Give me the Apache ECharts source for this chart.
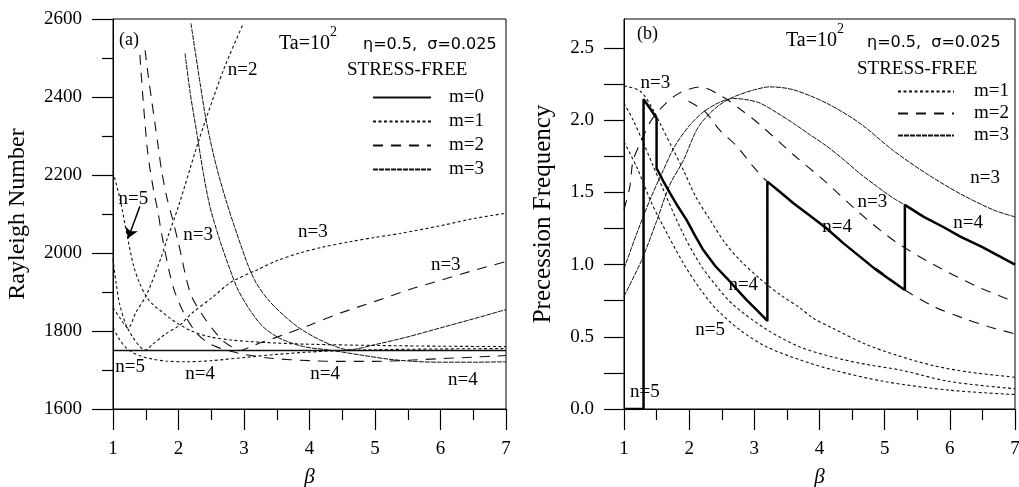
<!DOCTYPE html>
<html lang="en">
<head>
<meta charset="utf-8">
<title>Rayleigh number and precession frequency vs beta</title>
<script src="https://cdn.jsdelivr.net/npm/echarts@6/dist/echarts.min.js"></script>
<style>html,body{margin:0;padding:0;background:#fff;}</style>
</head>
<body>
<div id="chart" style="width:1019px;height:487px;"></div>
<script>
// ---- panel (a): Rayleigh number, [beta, Ra] ----
const a_m0_flat = [[1, 1750], [7, 1750]];
const a_m1_n5 = [[1, 2208], [1.11, 2136], [1.21, 2050], [1.31, 1970], [1.4, 1925], [1.51, 1888], [1.62, 1866], [1.74, 1850], [1.87, 1833], [2.0, 1818], [2.2, 1800], [2.48, 1785], [2.8, 1777], [3.09, 1773], [3.5, 1769], [4, 1766], [5, 1763], [6, 1761], [7, 1760]];
const a_m1_n2 = [[1, 1860], [1.1, 1835], [1.23, 1808], [1.35, 1848], [1.51, 1892], [1.74, 1991], [1.82, 2033], [2.0, 2120], [2.28, 2273], [2.43, 2349], [2.7, 2475], [2.98, 2585]];
const a_m1_n3 = [[1, 1985], [1.05, 1920], [1.1, 1870], [1.2, 1815], [1.3, 1785], [1.4, 1762], [1.49, 1751], [1.6, 1765], [1.8, 1792], [2.02, 1815], [2.2, 1845], [2.53, 1888], [2.8, 1925], [3.19, 1956], [3.5, 1980], [3.85, 2000], [4.2, 2015], [4.62, 2029], [5.0, 2040], [5.38, 2050], [6.0, 2070], [6.5, 2088], [7, 2102]];
const a_m1_n4 = [[1, 1808], [1.1, 1778], [1.2, 1757], [1.3, 1745], [1.4, 1737], [1.6, 1728], [1.8, 1723], [2.1, 1721], [2.5, 1724], [3.0, 1732], [3.5, 1740], [4, 1746], [4.5, 1750], [5, 1752], [6, 1754], [7, 1755]];
const a_m2_n4 = [[1.41, 2508], [1.46, 2392], [1.52, 2273], [1.56, 2221], [1.62, 2161], [1.69, 2102], [1.74, 2051], [1.87, 1944], [1.95, 1897], [2.1, 1840], [2.28, 1794], [2.45, 1770], [2.6, 1758], [2.8, 1748], [3.0, 1740], [3.42, 1730], [4, 1724], [4.5, 1722], [5, 1722], [5.5, 1725], [6, 1729], [6.5, 1733], [7, 1737]];
const a_m2_n3 = [[1.49, 2520], [1.54, 2452], [1.59, 2392], [1.64, 2333], [1.69, 2273], [1.74, 2213], [1.82, 2144], [1.9, 2093], [2.0, 2025], [2.18, 1897], [2.35, 1845], [2.53, 1803], [2.7, 1772], [2.85, 1756], [2.95, 1750], [3.1, 1760], [3.24, 1769], [3.6, 1790], [4, 1815], [4.47, 1846], [5, 1876], [5.5, 1905], [6, 1930], [6.5, 1955], [7, 1978]];
const a_m3_n3 = [[2.19, 2589], [2.33, 2435], [2.43, 2333], [2.58, 2221], [2.74, 2127], [2.89, 2050], [3.07, 1965], [3.19, 1922], [3.37, 1880], [3.6, 1841], [3.85, 1807], [4.16, 1777], [4.47, 1756], [4.6, 1752], [5.0, 1765], [5.5, 1785], [6.0, 1808], [6.5, 1831], [7, 1855]];
const a_m3_n4 = [[2.1, 2512], [2.18, 2409], [2.28, 2307], [2.38, 2204], [2.48, 2119], [2.63, 2033], [2.79, 1956], [2.91, 1905], [3.09, 1854], [3.29, 1811], [3.55, 1781], [3.91, 1760], [4.31, 1751], [4.8, 1738], [5.2, 1728], [5.6, 1722], [6.0, 1720], [6.5, 1720], [7, 1721]];
const a_labels = [[2.98, 2469, 'n=2'], [1.31, 2138, 'n=5'], [2.3, 2046, 'n=3'], [4.05, 2054, 'n=3'], [6.08, 1969, 'n=3'], [1.26, 1708, 'n=5'], [2.33, 1690, 'n=4'], [4.24, 1690, 'n=4'], [6.34, 1674, 'n=4']];
const a_arrow = [[1.41, 2119], [1.23, 2038]];

// ---- panel (b): precession frequency, [beta, omega] ----
const b_m1_n3 = [[1, 2.237], [1.25, 2.2], [1.45, 2.07], [1.55, 1.98], [1.75, 1.8], [1.91, 1.655], [2.1, 1.47], [2.32, 1.31], [2.55, 1.15], [2.78, 1.03], [3.09, 0.9], [3.4, 0.79], [3.7, 0.7], [3.9, 0.63], [4.2, 0.56], [4.7, 0.45], [5.2, 0.37], [5.75, 0.3], [6.3, 0.255], [7, 0.22]];
const b_m1_n4 = [[1, 2.117], [1.14, 2.0], [1.3, 1.84], [1.45, 1.68], [1.65, 1.47], [1.9, 1.22], [2.17, 1.0], [2.42, 0.85], [2.68, 0.72], [3.19, 0.55], [3.7, 0.43], [4.2, 0.36], [4.7, 0.31], [5.24, 0.27], [6, 0.19], [7, 0.14]];
const b_m1_n5 = [[1, 1.85], [1.2, 1.67], [1.4, 1.45], [1.55, 1.31], [1.91, 1.01], [2.17, 0.83], [2.42, 0.69], [2.8, 0.54], [3.19, 0.43], [3.7, 0.34], [4.21, 0.27], [5, 0.19], [6, 0.13], [7, 0.1]];
const b_m2_n3 = [[1, 1.38], [1.09, 1.54], [1.14, 1.72], [1.27, 1.86], [1.42, 2.0], [1.65, 2.12], [1.86, 2.19], [2.17, 2.23], [2.52, 2.16], [2.8, 2.07], [3.09, 1.967], [3.6, 1.76], [4.06, 1.586], [4.62, 1.355], [5.16, 1.16], [5.75, 1.0], [6.41, 0.85], [7, 0.74]];
const b_m2_n4 = [[1.99, 2.13], [2.24, 2.06], [2.47, 1.93], [2.73, 1.82], [2.98, 1.68], [3.2, 1.574], [3.6, 1.425], [4.11, 1.25], [4.62, 1.055], [5.0, 0.93], [5.31, 0.824], [5.75, 0.71], [6.2, 0.63], [6.6, 0.57], [7, 0.52]];
const b_m3_n4 = [[1, 0.97], [1.2, 1.22], [1.4, 1.45], [1.6, 1.65], [1.78, 1.82], [2.0, 1.96], [2.2, 2.05], [2.45, 2.12], [2.68, 2.15], [2.9, 2.14], [3.09, 2.117], [3.35, 2.05], [3.6, 1.978], [3.85, 1.9], [4.11, 1.82], [4.36, 1.73], [4.62, 1.63], [4.87, 1.545], [5.13, 1.46], [5.31, 1.413], [5.6, 1.33], [5.9, 1.26], [6.2, 1.19], [6.5, 1.12], [6.75, 1.06], [7, 1.0]];
const b_m3_n3 = [[1, 0.78], [1.27, 1.03], [1.5, 1.3], [1.7, 1.55], [1.91, 1.72], [2.1, 1.92], [2.22, 2.0], [2.45, 2.1], [2.68, 2.16], [3.0, 2.21], [3.24, 2.23], [3.6, 2.21], [4.11, 2.117], [4.62, 1.978], [5.13, 1.79], [5.64, 1.63], [6.16, 1.49], [6.67, 1.378], [7, 1.33]];
const b_critical = [[1, 0], [1.3, 0], [1.3, 2.145], [1.4, 2.08], [1.5, 2.013], [1.5, 1.667], [1.6, 1.58], [1.706, 1.494], [1.83, 1.4], [1.96, 1.309], [2.09, 1.2], [2.217, 1.1], [2.4, 0.99], [2.58, 0.905], [2.75, 0.82], [2.88, 0.755], [3.05, 0.68], [3.2, 0.61], [3.2, 1.574], [3.4, 1.5], [3.6, 1.425], [3.85, 1.34], [4.11, 1.25], [4.36, 1.15], [4.62, 1.055], [4.85, 0.97], [5.1, 0.89], [5.31, 0.824], [5.31, 1.413], [5.6, 1.33], [5.9, 1.26], [6.16, 1.193], [6.5, 1.12], [6.75, 1.06], [7, 1.0]];
const b_labels = [[1.48, 2.26, 'n=3'], [6.54, 1.6, 'n=3'], [4.81, 1.43, 'n=3'], [4.27, 1.26, 'n=4'], [6.28, 1.29, 'n=4'], [2.83, 0.86, 'n=4'], [2.32, 0.55, 'n=5'], [1.32, 0.12, 'n=5']];

const freqTicks = [0, 0.25, 0.5, 0.75, 1, 1.25, 1.5, 1.75, 2, 2.25, 2.5];
const freqLabels = [0, 0.5, 1, 1.5, 2, 2.5];

const serif = '"Liberation Serif", "DejaVu Serif", serif';
const ink = '#111';
const dash = {
  'm=0': { type: 'solid', width: 1.6 },
  'm=1': { type: [3, 2.5], width: 1.1 },
  'm=2': { type: [10, 8], width: 1.1 },
  'm=3': { type: [5, 1], width: 1 }
};

function curve(name, data, p) {
  return {
    name: name, type: 'line', data: data, xAxisIndex: p, yAxisIndex: p,
    symbol: 'none', smooth: 0.3, silent: true,
    lineStyle: Object.assign({ color: ink }, dash[name]),
    itemStyle: { color: ink }
  };
}

function labelSeries(rows, p, extra) {
  return Object.assign({
    type: 'scatter', xAxisIndex: p, yAxisIndex: p, silent: true, z: 4,
    symbolSize: 1, itemStyle: { color: 'rgba(0,0,0,0)' },
    data: rows.map(r => ({ value: [r[0], r[1]], name: r[2] })),
    label: {
      show: true, position: 'inside', formatter: '{b}', fontFamily: serif, fontSize: 19,
      color: '#000', opacity: 1, textBorderWidth: 0
    }
  }, extra || {});
}

function xAxis(i) {
  return {
    type: 'value', gridIndex: i, min: 1, max: 7, interval: 1,
    axisLine: { show: true, lineStyle: { color: '#000', width: 1 } },
    axisTick: { show: true, length: 21, lineStyle: { color: '#000', width: 1.2 } },
    minorTick: { show: true, splitNumber: 2, length: 11, lineStyle: { color: '#000', width: 1.2 } },
    splitLine: { show: false },
    axisLabel: { color: '#000', fontFamily: serif, fontSize: 19, margin: 31 },
    name: 'β', nameLocation: 'middle', nameGap: 58,
    nameTextStyle: { color: '#000', fontFamily: serif, fontStyle: 'italic', fontSize: 21 }
  };
}

const series = [
  curve('m=0', a_m0_flat, 0),
  curve('m=1', a_m1_n5, 0),
  curve('m=1', a_m1_n2, 0),
  curve('m=1', a_m1_n3, 0),
  curve('m=1', a_m1_n4, 0),
  curve('m=2', a_m2_n4, 0),
  curve('m=2', a_m2_n3, 0),
  curve('m=3', a_m3_n3, 0),
  curve('m=3', a_m3_n4, 0),
  labelSeries(a_labels, 0, {
    markLine: {
      silent: true, symbol: ['none', 'arrow'], symbolSize: 10,
      label: { show: false },
      lineStyle: { color: '#000', width: 1.5, type: 'solid' },
      data: [[{ coord: a_arrow[0] }, { coord: a_arrow[1] }]]
    }
  }),
  curve('m=1', b_m1_n3, 1),
  curve('m=1', b_m1_n4, 1),
  curve('m=1', b_m1_n5, 1),
  curve('m=2', b_m2_n3, 1),
  curve('m=2', b_m2_n4, 1),
  curve('m=3', b_m3_n4, 1),
  curve('m=3', b_m3_n3, 1),
  {
    name: 'critical', type: 'line', data: b_critical, xAxisIndex: 1, yAxisIndex: 1,
    symbol: 'none', silent: true, lineStyle: { color: '#000', width: 2.5 }, z: 3
  },
  labelSeries(b_labels, 1)
];

const legendText = { fontFamily: serif, fontSize: 19, color: '#000' };

const option = {
  animation: false,
  backgroundColor: '#fff',
  grid: [
    { left: 113, right: 513, top: 19, bottom: 78, outerBoundsMode: 'none', containLabel: false, show: true, borderColor: '#000', borderWidth: 1 },
    { left: 624, right: 4, top: 19, bottom: 78, outerBoundsMode: 'none', containLabel: false, show: true, borderColor: '#000', borderWidth: 1 }
  ],
  xAxis: [xAxis(0), xAxis(1)],
  yAxis: [
    {
      type: 'value', gridIndex: 0, min: 1600, max: 2600, interval: 200,
      axisLine: { show: true, lineStyle: { color: '#000' } },
      axisTick: { show: true, length: 21, lineStyle: { color: '#000', width: 1.2 } },
      minorTick: { show: true, splitNumber: 2, length: 11, lineStyle: { color: '#000', width: 1.2 } },
      splitLine: { show: false },
      axisLabel: { color: '#000', fontFamily: serif, fontSize: 19, margin: 31, formatter: v => String(v) },
      name: 'Rayleigh Number', nameLocation: 'middle', nameRotate: 90, nameGap: 83,
      nameTextStyle: { color: '#000', fontFamily: serif, fontSize: 24 }
    },
    {
      type: 'value', gridIndex: 1, min: 0, max: 2.7,
      axisLine: { show: true, lineStyle: { color: '#000' } },
      axisTick: { show: true, length: 20, customValues: freqTicks, lineStyle: { color: '#000', width: 1.2 } },
      splitLine: { show: false },
      axisLabel: { color: '#000', fontFamily: serif, fontSize: 19, margin: 30, customValues: freqLabels, formatter: v => v.toFixed(1) },
      name: 'Precession Frequency', nameLocation: 'middle', nameRotate: 90, nameGap: 68,
      nameTextStyle: { color: '#000', fontFamily: serif, fontSize: 25 }
    }
  ],
  legend: [
    {
      data: ['m=0', 'm=1', 'm=2', 'm=3'], left: 372, top: 88, orient: 'vertical',
      itemWidth: 58, itemHeight: 22, itemGap: 5, padding: 0, selectedMode: false,
      itemStyle: { opacity: 0 },
      textStyle: Object.assign({ padding: [0, 0, 0, 13] }, legendText)
    },
    {
      data: ['m=1', 'm=2', 'm=3'], left: 897, top: 82, orient: 'vertical',
      itemWidth: 56, itemHeight: 22, itemGap: 3, padding: 0, selectedMode: false,
      itemStyle: { opacity: 0 },
      textStyle: Object.assign({ padding: [0, 0, 0, 15] }, legendText)
    }
  ],
  graphic: [
    { type: 'text', left: 119, top: 31, style: { text: '(a)', font: '18px ' + serif, fill: '#000' } },
    { type: 'text', left: 279, top: 34, style: { text: 'Ta=10', font: '20px ' + serif, fill: '#000' } },
    { type: 'text', left: 330, top: 25, style: { text: '2', font: '14px ' + serif, fill: '#000' } },
    { type: 'text', left: 363, top: 37, style: { text: 'η=0.5,  σ=0.025', font: '16px "DejaVu Sans"', fill: '#000' } },
    { type: 'text', left: 347, top: 61, style: { text: 'STRESS-FREE', font: '19px ' + serif, fill: '#000' } },
    { type: 'text', left: 637, top: 25, style: { text: '(b)', font: '18px ' + serif, fill: '#000' } },
    { type: 'text', left: 786, top: 31, style: { text: 'Ta=10', font: '20px ' + serif, fill: '#000' } },
    { type: 'text', left: 837, top: 22, style: { text: '2', font: '14px ' + serif, fill: '#000' } },
    { type: 'text', left: 867, top: 35, style: { text: 'η=0.5,  σ=0.025', font: '16px "DejaVu Sans"', fill: '#000' } },
    { type: 'text', left: 857, top: 60, style: { text: 'STRESS-FREE', font: '19px ' + serif, fill: '#000' } }
  ],
  series: series
};

const chart = echarts.init(document.getElementById('chart'));
chart.setOption(option);
</script>
</body>
</html>
